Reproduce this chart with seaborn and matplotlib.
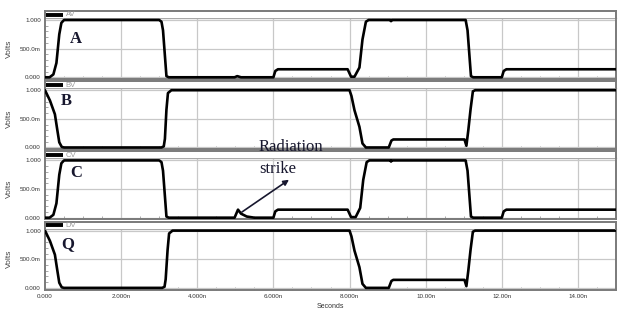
import numpy as np
import pandas as pd
import matplotlib
matplotlib.use("Agg")
import matplotlib.pyplot as plt
import seaborn as sns
from matplotlib.ticker import MultipleLocator

# waveform breakpoints (time in ns, volts)
a_time = [0, 0.12, 0.22, 0.3, 0.375, 0.43, 0.5, 3.0, 3.06, 3.1, 3.19, 3.25,
          4.98, 5.05, 5.15, 6.0, 6.05, 6.12, 7.95, 8.04, 8.13, 8.26, 8.34, 8.43,
          8.5, 9.07, 9.09, 9.11, 11.05, 11.1, 11.19, 11.25, 12.0, 12.05, 12.12, 15]
a_volts = [0, 0, 0.05, 0.25, 0.75, 0.95, 1.0, 1.0, 0.97, 0.82, 0.02, 0,
           0, 0.02, 0, 0, 0.11, 0.14, 0.14, 0.01, 0.01, 0.17, 0.66, 0.97,
           1.0, 1.0, 0.98, 1.0, 1.0, 0.82, 0.02, 0, 0, 0.11, 0.14, 0.14]

b_time = [0, 0.13, 0.26, 0.32, 0.375, 0.44, 0.5, 3.06, 3.12, 3.15, 3.19, 3.23,
          3.32, 8.0, 8.05, 8.13, 8.26, 8.34, 8.43, 9.03, 9.1, 9.15, 11.02, 11.07,
          11.12, 11.18, 11.24, 11.3, 15]
b_volts = [1.0, 0.82, 0.58, 0.32, 0.09, 0.01, 0, 0, 0.02, 0.15, 0.66, 0.95,
           1.0, 1.0, 0.9, 0.65, 0.36, 0.07, 0, 0, 0.12, 0.14, 0.14, 0.03,
           0.3, 0.67, 0.98, 1.0, 1.0]

c_time = [0, 0.12, 0.22, 0.3, 0.375, 0.43, 0.5, 3.0, 3.06, 3.1, 3.19, 3.25,
          4.98, 5.07, 5.15, 5.3, 5.5, 6.0, 6.05, 6.12, 7.95, 8.04, 8.16, 8.28,
          8.36, 8.45, 8.52, 9.07, 9.09, 9.11, 11.05, 11.1, 11.19, 11.25, 12.0,
          12.05, 12.12, 15]
c_volts = [0, 0, 0.05, 0.25, 0.75, 0.95, 1.0, 1.0, 0.97, 0.82, 0.02, 0,
           0, 0.14, 0.07, 0.02, 0, 0, 0.11, 0.14, 0.14, 0.01, 0.01, 0.17,
           0.66, 0.97, 1.0, 1.0, 0.98, 1.0, 1.0, 0.82, 0.02, 0, 0,
           0.11, 0.14, 0.14]

q_time = [0, 0.13, 0.26, 0.32, 0.375, 0.44, 0.5, 3.08, 3.14, 3.17, 3.22, 3.26,
          3.35, 8.0, 8.05, 8.13, 8.26, 8.34, 8.43, 9.03, 9.1, 9.15, 11.02, 11.07,
          11.12, 11.18, 11.24, 11.3, 15]
q_volts = [1.0, 0.82, 0.58, 0.32, 0.09, 0.01, 0, 0, 0.02, 0.15, 0.66, 0.95,
           1.0, 1.0, 0.9, 0.65, 0.36, 0.07, 0, 0, 0.12, 0.14, 0.14, 0.03,
           0.3, 0.67, 0.98, 1.0, 1.0]

signal_names = ["AV", "BV", "CV", "DV"]
panel_letters = ["A", "B", "C", "Q"]
letter_pos = [(0.81, 0.66), (0.55, 0.81), (0.83, 0.78), (0.59, 0.76)]
x_ticks = [0, 2, 4, 6, 8, 10, 12, 14]
x_ticklabels = ["0.000", "2.000n", "4.000n", "6.000n", "8.000n", "10.00n", "12.00n", "14.00n"]
y_ticks = [0, 0.5, 1.0]
y_ticklabels = ["0.000", "500.0m", "1.000"]

times = [a_time, b_time, c_time, q_time]
volts = [a_volts, b_volts, c_volts, q_volts]

sns.set_theme(style="white")
plt.rcParams["font.family"] = ["Liberation Sans", "DejaVu Sans"]

W, H = 621, 311
left, right = 45, 616
fig = plt.figure(figsize=(W / 100, H / 100), dpi=100)
border = "#7a7a7a"
grid = "#c8c8c8"
ink = "#17172e"

axes = []
for i in range(4):
    top = 11 + 70.2 * i
    ax = fig.add_axes([left / W, (H - (top + 68)) / H, (right - left) / W, 61 / H])
    strip = fig.add_axes([left / W, (H - (top + 7)) / H, (right - left) / W, 7 / H])

    df = pd.DataFrame({"t": times[i], "v": volts[i]})
    sns.lineplot(data=df, x="t", y="v", ax=ax, color="black", linewidth=1.9,
                 sort=False, estimator=None, zorder=3)
    ax.set_xlim(0, 15)
    ax.set_ylim(-0.03, 1.035)
    for x in x_ticks[1:]:
        ax.axvline(x, color=grid, lw=0.9, zorder=1)
    for y in y_ticks:
        ax.axhline(y, color=grid, lw=0.9, zorder=1)

    ax.set_xticks(x_ticks, x_ticklabels)
    ax.set_yticks(y_ticks, y_ticklabels)
    ax.xaxis.set_minor_locator(MultipleLocator(0.5))
    ax.yaxis.set_minor_locator(MultipleLocator(0.1))
    ax.tick_params(which="both", direction="in", bottom=True, left=True,
                   colors="#999999", labelcolor="#333333", labelsize=4.5, width=0.6)
    ax.tick_params(which="major", length=3, pad=3)
    ax.tick_params(which="minor", length=2)
    if i < 3:
        ax.tick_params(labelbottom=False)
    ax.set_xlabel("")
    ax.set_ylabel("Volts", fontsize=6, color="#444444")
    ax.yaxis.set_label_coords(-0.056, 0.5)

    for side, sp in ax.spines.items():
        sp.set_color(border)
        sp.set_linewidth(1.4)
    ax.spines["top"].set_color("#a8a8a8")
    ax.spines["top"].set_linewidth(0.9)

    lx, ly = letter_pos[i]
    ax.text(lx, ly, panel_letters[i], family=["Liberation Serif"], weight="bold",
            fontsize=12, color=ink, ha="center", va="center", zorder=5)

    strip.set_xlim(0, 1)
    strip.set_ylim(0, 1)
    strip.set_xticks([])
    strip.set_yticks([])
    strip.plot([0.002, 0.0315], [0.5, 0.5], color="black", lw=2.8, solid_capstyle="butt")
    strip.text(0.036, 0.45, signal_names[i], fontsize=5.5, color="#9a9a9a", va="center")
    for side, sp in strip.spines.items():
        sp.set_color(border)
        sp.set_linewidth(1.4)
    strip.spines["bottom"].set_visible(False)
    axes.append(ax)

fig.text(330.5 / W, (H - 306) / H, "Seconds", fontsize=5, color="#333333",
         ha="center", va="center")

# radiation strike annotation
axes[2].annotate("", xy=(6.47, 0.69), xytext=(5.11, 0.07),
                 arrowprops=dict(arrowstyle="-|>", color=ink, lw=1.2, mutation_scale=8),
                 zorder=6)
fig.text(259 / W, (H - 150.7) / H, "Radiation", family=["Liberation Serif"],
         fontsize=12, color=ink, va="baseline", zorder=10)
fig.text(259 / W, (H - 172.7) / H, "strike", family=["Liberation Serif"],
         fontsize=12, color=ink, va="baseline", zorder=10)

fig.savefig("out.png", dpi=100, facecolor="white")
